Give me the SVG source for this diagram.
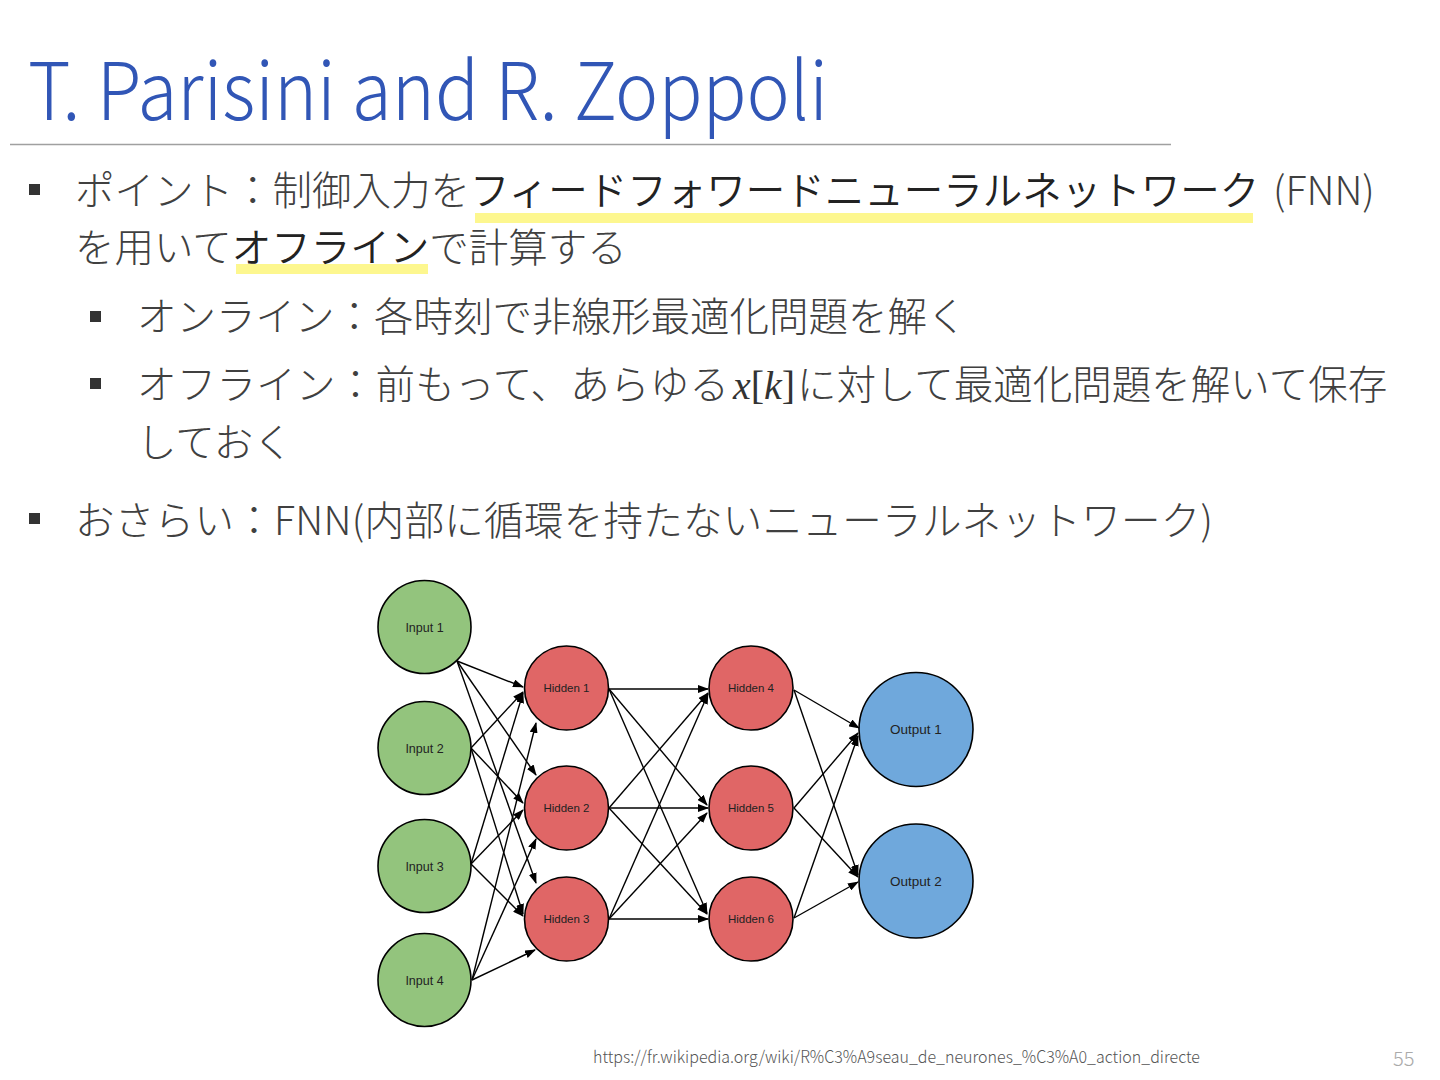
<svg xmlns="http://www.w3.org/2000/svg" width="1440" height="1080" viewBox="0 0 1440 1080">
<defs>
<marker id="ah" markerUnits="userSpaceOnUse" markerWidth="11" markerHeight="8" refX="10" refY="4" orient="auto">
<path d="M0,0 L11,4 L0,8 z" fill="#000"/>
</marker>
<style>
.jp{font-family:"Noto Sans CJK JP","Noto Sans",sans-serif;font-weight:200;font-size:39.5px;fill:#404040}
.b{font-weight:350;fill:#222}
.bul{fill:#333}
.hl{fill:#fdf78f}
.edge{stroke:#000;stroke-width:1.4;fill:none;marker-end:url(#ah)}
.node circle{stroke:#000;stroke-width:1.6}
.in circle{fill:#93c47d}
.hid circle{fill:#e06666}
.out circle{fill:#6fa8dc}
.node text{font-family:"Liberation Sans",Arial,sans-serif;font-size:12.5px;fill:#222;text-anchor:middle}
.hid text{font-size:11.5px}
.out text{font-size:13.5px}
</style>
</defs>
<rect width="1440" height="1080" fill="#fff"/>

<!-- Title -->
<text x="28" y="120" font-family="'Noto Sans CJK JP','Noto Sans',sans-serif" font-weight="200" font-size="80" fill="#3156b6" textLength="800" lengthAdjust="spacingAndGlyphs">T. Parisini and R. Zoppoli</text>
<line x1="10" y1="144.5" x2="1171" y2="144.5" stroke="#a0a0a0" stroke-width="1.5"/>

<!-- highlights -->
<rect class="hl" x="475" y="213" width="778" height="10"/>
<rect class="hl" x="236" y="264" width="192" height="10"/>

<!-- bullets -->
<rect class="bul" x="29" y="184" width="11" height="11"/>
<rect class="bul" x="90" y="311" width="11" height="11"/>
<rect class="bul" x="90" y="378" width="11" height="11"/>
<rect class="bul" x="29" y="513" width="11" height="11"/>

<text class="jp" x="75" y="205">ポイント：制御入力を<tspan class="b">フィードフォワードニューラルネットワーク</tspan></text>
<text class="jp" x="1273" y="205">(FNN)</text>
<text class="jp" x="75" y="262">を用いて<tspan class="b">オフライン</tspan>で計算する</text>
<text class="jp" x="137" y="331">オンライン：各時刻で非線形最適化問題を解く</text>
<text class="jp" x="137" y="399" textLength="592">オフライン：前もって、あらゆる</text>
<text x="733" y="399" font-family="'Liberation Serif','Times New Roman',serif" font-size="40" fill="#333"><tspan font-style="italic">x</tspan>[<tspan font-style="italic">k</tspan>]</text>
<text class="jp" x="797" y="399">に対して最適化問題を解いて保存</text>
<text class="jp" x="137" y="457">しておく</text>
<text class="jp" x="75" y="535" textLength="1138">おさらい：FNN(内部に循環を持たないニューラルネットワーク)</text>

<!-- connectors -->
<g id="edges">
<line class="edge" x1="457" y1="661" x2="523" y2="687"/>
<line class="edge" x1="457" y1="661" x2="536" y2="775"/>
<line class="edge" x1="457" y1="661" x2="536" y2="883"/>
<line class="edge" x1="471" y1="748" x2="523" y2="692"/>
<line class="edge" x1="471" y1="748" x2="523" y2="803"/>
<line class="edge" x1="471" y1="748" x2="523" y2="914"/>
<line class="edge" x1="471" y1="864" x2="523" y2="693"/>
<line class="edge" x1="471" y1="864" x2="523" y2="810"/>
<line class="edge" x1="471" y1="864" x2="523" y2="916"/>
<line class="edge" x1="472" y1="980" x2="536" y2="723"/>
<line class="edge" x1="472" y1="980" x2="536" y2="839"/>
<line class="edge" x1="472" y1="980" x2="535" y2="950"/>

<line class="edge" x1="609" y1="689" x2="708" y2="689"/>
<line class="edge" x1="609" y1="689" x2="707" y2="805"/>
<line class="edge" x1="609" y1="689" x2="707" y2="913"/>
<line class="edge" x1="609" y1="808" x2="708" y2="693"/>
<line class="edge" x1="609" y1="808" x2="708" y2="808"/>
<line class="edge" x1="609" y1="808" x2="707" y2="914"/>
<line class="edge" x1="609" y1="919" x2="708" y2="694"/>
<line class="edge" x1="609" y1="919" x2="707" y2="813"/>
<line class="edge" x1="609" y1="919" x2="708" y2="919"/>

<line class="edge" x1="794" y1="690" x2="859" y2="728"/>
<line class="edge" x1="794" y1="690" x2="858" y2="875"/>
<line class="edge" x1="794" y1="808" x2="858" y2="733"/>
<line class="edge" x1="794" y1="808" x2="858" y2="877"/>
<line class="edge" x1="794" y1="918" x2="858" y2="736"/>
<line class="edge" x1="794" y1="918" x2="858" y2="882"/>
</g>

<!-- nodes -->
<g id="input1" class="node in"><circle cx="424.5" cy="627" r="46.5"/><text x="424.5" y="631.5">Input 1</text></g>
<g id="input2" class="node in"><circle cx="424.5" cy="748" r="46.5"/><text x="424.5" y="752.5">Input 2</text></g>
<g id="input3" class="node in"><circle cx="424.5" cy="866" r="46.5"/><text x="424.5" y="870.5">Input 3</text></g>
<g id="input4" class="node in"><circle cx="424.5" cy="980" r="46.5"/><text x="424.5" y="984.5">Input 4</text></g>
<g id="hidden1" class="node hid"><circle cx="566.5" cy="688" r="42"/><text x="566.5" y="692">Hidden 1</text></g>
<g id="hidden2" class="node hid"><circle cx="566.5" cy="808" r="42"/><text x="566.5" y="812">Hidden 2</text></g>
<g id="hidden3" class="node hid"><circle cx="566.5" cy="919" r="42"/><text x="566.5" y="923">Hidden 3</text></g>
<g id="hidden4" class="node hid"><circle cx="751" cy="688" r="42"/><text x="751" y="692">Hidden 4</text></g>
<g id="hidden5" class="node hid"><circle cx="751" cy="808" r="42"/><text x="751" y="812">Hidden 5</text></g>
<g id="hidden6" class="node hid"><circle cx="751" cy="919" r="42"/><text x="751" y="923">Hidden 6</text></g>
<g id="output1" class="node out"><circle cx="916" cy="729.5" r="57"/><text x="916" y="734">Output 1</text></g>
<g id="output2" class="node out"><circle cx="916" cy="881" r="57"/><text x="916" y="885.5">Output 2</text></g>

<!-- footer -->
<text x="593" y="1063" font-family="'Noto Sans CJK JP','Noto Sans',sans-serif" font-weight="200" font-size="17" fill="#555" textLength="607" lengthAdjust="spacingAndGlyphs">https://fr.wikipedia.org/wiki/R%C3%A9seau_de_neurones_%C3%A0_action_directe</text>
<text x="1393" y="1066" font-family="'Noto Sans CJK JP','Noto Sans',sans-serif" font-weight="200" font-size="20" fill="#aaa">55</text>
</svg>
